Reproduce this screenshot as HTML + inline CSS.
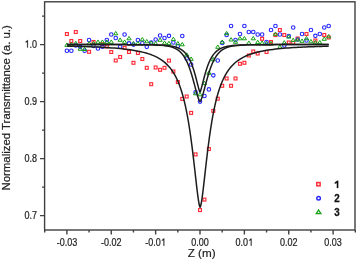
<!DOCTYPE html><html><head><meta charset="utf-8"><style>html,body{margin:0;padding:0;background:#fff;}svg{display:block;filter:blur(0.3px);}text{font-family:"Liberation Sans",sans-serif;}</style></head><body>
<svg width="357" height="260" viewBox="0 0 357 260">
<rect x="0" y="0" width="357" height="260" fill="#fff"/>
<rect x="65.45" y="32.55" width="2.90" height="2.90" fill="none" stroke="#ff2a36" stroke-width="1.15"/><rect x="69.89" y="39.55" width="2.90" height="2.90" fill="none" stroke="#ff2a36" stroke-width="1.15"/><rect x="74.32" y="30.55" width="2.90" height="2.90" fill="none" stroke="#ff2a36" stroke-width="1.15"/><rect x="78.76" y="39.55" width="2.90" height="2.90" fill="none" stroke="#ff2a36" stroke-width="1.15"/><rect x="87.64" y="50.35" width="2.90" height="2.90" fill="none" stroke="#ff2a36" stroke-width="1.15"/><rect x="92.07" y="40.55" width="2.90" height="2.90" fill="none" stroke="#ff2a36" stroke-width="1.15"/><rect x="100.95" y="42.85" width="2.90" height="2.90" fill="none" stroke="#ff2a36" stroke-width="1.15"/><rect x="105.38" y="45.05" width="2.90" height="2.90" fill="none" stroke="#ff2a36" stroke-width="1.15"/><rect x="109.82" y="50.55" width="2.90" height="2.90" fill="none" stroke="#ff2a36" stroke-width="1.15"/><rect x="114.26" y="59.05" width="2.90" height="2.90" fill="none" stroke="#ff2a36" stroke-width="1.15"/><rect x="118.69" y="55.55" width="2.90" height="2.90" fill="none" stroke="#ff2a36" stroke-width="1.15"/><rect x="123.13" y="46.35" width="2.90" height="2.90" fill="none" stroke="#ff2a36" stroke-width="1.15"/><rect x="127.57" y="50.55" width="2.90" height="2.90" fill="none" stroke="#ff2a36" stroke-width="1.15"/><rect x="132.01" y="61.35" width="2.90" height="2.90" fill="none" stroke="#ff2a36" stroke-width="1.15"/><rect x="136.44" y="51.55" width="2.90" height="2.90" fill="none" stroke="#ff2a36" stroke-width="1.15"/><rect x="140.88" y="57.55" width="2.90" height="2.90" fill="none" stroke="#ff2a36" stroke-width="1.15"/><rect x="145.32" y="66.35" width="2.90" height="2.90" fill="none" stroke="#ff2a36" stroke-width="1.15"/><rect x="149.75" y="82.75" width="2.90" height="2.90" fill="none" stroke="#ff2a36" stroke-width="1.15"/><rect x="154.19" y="66.05" width="2.90" height="2.90" fill="none" stroke="#ff2a36" stroke-width="1.15"/><rect x="158.63" y="68.35" width="2.90" height="2.90" fill="none" stroke="#ff2a36" stroke-width="1.15"/><rect x="163.06" y="66.35" width="2.90" height="2.90" fill="none" stroke="#ff2a36" stroke-width="1.15"/><rect x="167.50" y="59.15" width="2.90" height="2.90" fill="none" stroke="#ff2a36" stroke-width="1.15"/><rect x="171.94" y="70.05" width="2.90" height="2.90" fill="none" stroke="#ff2a36" stroke-width="1.15"/><rect x="176.38" y="80.55" width="2.90" height="2.90" fill="none" stroke="#ff2a36" stroke-width="1.15"/><rect x="180.81" y="97.45" width="2.90" height="2.90" fill="none" stroke="#ff2a36" stroke-width="1.15"/><rect x="185.25" y="95.05" width="2.90" height="2.90" fill="none" stroke="#ff2a36" stroke-width="1.15"/><rect x="189.69" y="111.45" width="2.90" height="2.90" fill="none" stroke="#ff2a36" stroke-width="1.15"/><rect x="194.12" y="152.95" width="2.90" height="2.90" fill="none" stroke="#ff2a36" stroke-width="1.15"/><rect x="198.56" y="208.65" width="2.90" height="2.90" fill="none" stroke="#ff2a36" stroke-width="1.15"/><rect x="203.00" y="198.15" width="2.90" height="2.90" fill="none" stroke="#ff2a36" stroke-width="1.15"/><rect x="207.43" y="147.55" width="2.90" height="2.90" fill="none" stroke="#ff2a36" stroke-width="1.15"/><rect x="211.87" y="109.45" width="2.90" height="2.90" fill="none" stroke="#ff2a36" stroke-width="1.15"/><rect x="216.31" y="97.25" width="2.90" height="2.90" fill="none" stroke="#ff2a36" stroke-width="1.15"/><rect x="220.75" y="84.35" width="2.90" height="2.90" fill="none" stroke="#ff2a36" stroke-width="1.15"/><rect x="225.18" y="77.05" width="2.90" height="2.90" fill="none" stroke="#ff2a36" stroke-width="1.15"/><rect x="229.62" y="84.35" width="2.90" height="2.90" fill="none" stroke="#ff2a36" stroke-width="1.15"/><rect x="234.06" y="77.05" width="2.90" height="2.90" fill="none" stroke="#ff2a36" stroke-width="1.15"/><rect x="238.49" y="62.35" width="2.90" height="2.90" fill="none" stroke="#ff2a36" stroke-width="1.15"/><rect x="242.93" y="61.35" width="2.90" height="2.90" fill="none" stroke="#ff2a36" stroke-width="1.15"/><rect x="247.37" y="54.05" width="2.90" height="2.90" fill="none" stroke="#ff2a36" stroke-width="1.15"/><rect x="251.80" y="50.05" width="2.90" height="2.90" fill="none" stroke="#ff2a36" stroke-width="1.15"/><rect x="256.24" y="52.05" width="2.90" height="2.90" fill="none" stroke="#ff2a36" stroke-width="1.15"/><rect x="260.68" y="37.35" width="2.90" height="2.90" fill="none" stroke="#ff2a36" stroke-width="1.15"/><rect x="265.12" y="50.55" width="2.90" height="2.90" fill="none" stroke="#ff2a36" stroke-width="1.15"/><rect x="269.55" y="40.55" width="2.90" height="2.90" fill="none" stroke="#ff2a36" stroke-width="1.15"/><rect x="273.99" y="33.55" width="2.90" height="2.90" fill="none" stroke="#ff2a36" stroke-width="1.15"/><rect x="278.43" y="28.55" width="2.90" height="2.90" fill="none" stroke="#ff2a36" stroke-width="1.15"/><rect x="282.86" y="33.55" width="2.90" height="2.90" fill="none" stroke="#ff2a36" stroke-width="1.15"/><rect x="287.30" y="41.05" width="2.90" height="2.90" fill="none" stroke="#ff2a36" stroke-width="1.15"/><rect x="291.74" y="41.35" width="2.90" height="2.90" fill="none" stroke="#ff2a36" stroke-width="1.15"/><rect x="296.17" y="37.05" width="2.90" height="2.90" fill="none" stroke="#ff2a36" stroke-width="1.15"/><rect x="305.05" y="32.55" width="2.90" height="2.90" fill="none" stroke="#ff2a36" stroke-width="1.15"/><rect x="313.92" y="39.05" width="2.90" height="2.90" fill="none" stroke="#ff2a36" stroke-width="1.15"/><rect x="322.80" y="33.55" width="2.90" height="2.90" fill="none" stroke="#ff2a36" stroke-width="1.15"/><rect x="327.23" y="36.05" width="2.90" height="2.90" fill="none" stroke="#ff2a36" stroke-width="1.15"/><circle cx="66.90" cy="50.70" r="1.75" fill="none" stroke="#2828ff" stroke-width="1.15"/><circle cx="71.34" cy="50.70" r="1.75" fill="none" stroke="#2828ff" stroke-width="1.15"/><circle cx="75.77" cy="45.50" r="1.75" fill="none" stroke="#2828ff" stroke-width="1.15"/><circle cx="80.21" cy="46.80" r="1.75" fill="none" stroke="#2828ff" stroke-width="1.15"/><circle cx="84.65" cy="50.70" r="1.75" fill="none" stroke="#2828ff" stroke-width="1.15"/><circle cx="89.09" cy="40.00" r="1.75" fill="none" stroke="#2828ff" stroke-width="1.15"/><circle cx="93.52" cy="45.80" r="1.75" fill="none" stroke="#2828ff" stroke-width="1.15"/><circle cx="97.96" cy="48.50" r="1.75" fill="none" stroke="#2828ff" stroke-width="1.15"/><circle cx="102.40" cy="46.70" r="1.75" fill="none" stroke="#2828ff" stroke-width="1.15"/><circle cx="106.83" cy="40.00" r="1.75" fill="none" stroke="#2828ff" stroke-width="1.15"/><circle cx="111.27" cy="34.50" r="1.75" fill="none" stroke="#2828ff" stroke-width="1.15"/><circle cx="115.71" cy="38.00" r="1.75" fill="none" stroke="#2828ff" stroke-width="1.15"/><circle cx="120.14" cy="46.70" r="1.75" fill="none" stroke="#2828ff" stroke-width="1.15"/><circle cx="124.58" cy="34.50" r="1.75" fill="none" stroke="#2828ff" stroke-width="1.15"/><circle cx="129.02" cy="43.30" r="1.75" fill="none" stroke="#2828ff" stroke-width="1.15"/><circle cx="133.46" cy="44.60" r="1.75" fill="none" stroke="#2828ff" stroke-width="1.15"/><circle cx="137.89" cy="40.00" r="1.75" fill="none" stroke="#2828ff" stroke-width="1.15"/><circle cx="142.33" cy="43.20" r="1.75" fill="none" stroke="#2828ff" stroke-width="1.15"/><circle cx="146.77" cy="46.80" r="1.75" fill="none" stroke="#2828ff" stroke-width="1.15"/><circle cx="151.20" cy="42.50" r="1.75" fill="none" stroke="#2828ff" stroke-width="1.15"/><circle cx="155.64" cy="39.50" r="1.75" fill="none" stroke="#2828ff" stroke-width="1.15"/><circle cx="160.08" cy="35.50" r="1.75" fill="none" stroke="#2828ff" stroke-width="1.15"/><circle cx="164.51" cy="38.00" r="1.75" fill="none" stroke="#2828ff" stroke-width="1.15"/><circle cx="168.95" cy="35.80" r="1.75" fill="none" stroke="#2828ff" stroke-width="1.15"/><circle cx="173.39" cy="42.50" r="1.75" fill="none" stroke="#2828ff" stroke-width="1.15"/><circle cx="177.83" cy="46.00" r="1.75" fill="none" stroke="#2828ff" stroke-width="1.15"/><circle cx="182.26" cy="36.00" r="1.75" fill="none" stroke="#2828ff" stroke-width="1.15"/><circle cx="186.70" cy="58.50" r="1.75" fill="none" stroke="#2828ff" stroke-width="1.15"/><circle cx="191.14" cy="64.50" r="1.75" fill="none" stroke="#2828ff" stroke-width="1.15"/><circle cx="195.57" cy="92.20" r="1.75" fill="none" stroke="#2828ff" stroke-width="1.15"/><circle cx="200.01" cy="101.60" r="1.75" fill="none" stroke="#2828ff" stroke-width="1.15"/><circle cx="204.45" cy="96.00" r="1.75" fill="none" stroke="#2828ff" stroke-width="1.15"/><circle cx="208.88" cy="89.40" r="1.75" fill="none" stroke="#2828ff" stroke-width="1.15"/><circle cx="213.32" cy="75.30" r="1.75" fill="none" stroke="#2828ff" stroke-width="1.15"/><circle cx="217.76" cy="60.50" r="1.75" fill="none" stroke="#2828ff" stroke-width="1.15"/><circle cx="222.20" cy="43.00" r="1.75" fill="none" stroke="#2828ff" stroke-width="1.15"/><circle cx="226.63" cy="35.00" r="1.75" fill="none" stroke="#2828ff" stroke-width="1.15"/><circle cx="231.07" cy="26.00" r="1.75" fill="none" stroke="#2828ff" stroke-width="1.15"/><circle cx="235.51" cy="40.00" r="1.75" fill="none" stroke="#2828ff" stroke-width="1.15"/><circle cx="239.94" cy="34.00" r="1.75" fill="none" stroke="#2828ff" stroke-width="1.15"/><circle cx="244.38" cy="26.00" r="1.75" fill="none" stroke="#2828ff" stroke-width="1.15"/><circle cx="248.82" cy="32.00" r="1.75" fill="none" stroke="#2828ff" stroke-width="1.15"/><circle cx="253.25" cy="32.00" r="1.75" fill="none" stroke="#2828ff" stroke-width="1.15"/><circle cx="257.69" cy="34.50" r="1.75" fill="none" stroke="#2828ff" stroke-width="1.15"/><circle cx="262.13" cy="34.50" r="1.75" fill="none" stroke="#2828ff" stroke-width="1.15"/><circle cx="266.57" cy="42.00" r="1.75" fill="none" stroke="#2828ff" stroke-width="1.15"/><circle cx="271.00" cy="30.00" r="1.75" fill="none" stroke="#2828ff" stroke-width="1.15"/><circle cx="275.44" cy="26.00" r="1.75" fill="none" stroke="#2828ff" stroke-width="1.15"/><circle cx="279.88" cy="34.50" r="1.75" fill="none" stroke="#2828ff" stroke-width="1.15"/><circle cx="284.31" cy="45.50" r="1.75" fill="none" stroke="#2828ff" stroke-width="1.15"/><circle cx="288.75" cy="36.00" r="1.75" fill="none" stroke="#2828ff" stroke-width="1.15"/><circle cx="293.19" cy="27.50" r="1.75" fill="none" stroke="#2828ff" stroke-width="1.15"/><circle cx="297.62" cy="39.50" r="1.75" fill="none" stroke="#2828ff" stroke-width="1.15"/><circle cx="302.06" cy="34.00" r="1.75" fill="none" stroke="#2828ff" stroke-width="1.15"/><circle cx="306.50" cy="40.50" r="1.75" fill="none" stroke="#2828ff" stroke-width="1.15"/><circle cx="310.94" cy="30.00" r="1.75" fill="none" stroke="#2828ff" stroke-width="1.15"/><circle cx="315.37" cy="35.80" r="1.75" fill="none" stroke="#2828ff" stroke-width="1.15"/><circle cx="319.81" cy="34.00" r="1.75" fill="none" stroke="#2828ff" stroke-width="1.15"/><circle cx="324.25" cy="27.50" r="1.75" fill="none" stroke="#2828ff" stroke-width="1.15"/><circle cx="328.68" cy="26.00" r="1.75" fill="none" stroke="#2828ff" stroke-width="1.15"/><path d="M66.90,42.95L69.00,46.30L64.80,46.30Z" fill="none" stroke="#14a014" stroke-width="1.0" stroke-linejoin="miter"/><path d="M71.34,42.45L73.44,45.80L69.24,45.80Z" fill="none" stroke="#14a014" stroke-width="1.0" stroke-linejoin="miter"/><path d="M75.77,41.25L77.87,44.60L73.67,44.60Z" fill="none" stroke="#14a014" stroke-width="1.0" stroke-linejoin="miter"/><path d="M80.21,46.95L82.31,50.30L78.11,50.30Z" fill="none" stroke="#14a014" stroke-width="1.0" stroke-linejoin="miter"/><path d="M84.65,47.15L86.75,50.50L82.55,50.50Z" fill="none" stroke="#14a014" stroke-width="1.0" stroke-linejoin="miter"/><path d="M89.09,41.45L91.19,44.80L86.99,44.80Z" fill="none" stroke="#14a014" stroke-width="1.0" stroke-linejoin="miter"/><path d="M93.52,41.45L95.62,44.80L91.42,44.80Z" fill="none" stroke="#14a014" stroke-width="1.0" stroke-linejoin="miter"/><path d="M97.96,39.95L100.06,43.30L95.86,43.30Z" fill="none" stroke="#14a014" stroke-width="1.0" stroke-linejoin="miter"/><path d="M102.40,39.95L104.50,43.30L100.30,43.30Z" fill="none" stroke="#14a014" stroke-width="1.0" stroke-linejoin="miter"/><path d="M106.83,39.95L108.93,43.30L104.73,43.30Z" fill="none" stroke="#14a014" stroke-width="1.0" stroke-linejoin="miter"/><path d="M111.27,39.95L113.37,43.30L109.17,43.30Z" fill="none" stroke="#14a014" stroke-width="1.0" stroke-linejoin="miter"/><path d="M115.71,31.45L117.81,34.80L113.61,34.80Z" fill="none" stroke="#14a014" stroke-width="1.0" stroke-linejoin="miter"/><path d="M120.14,37.95L122.24,41.30L118.04,41.30Z" fill="none" stroke="#14a014" stroke-width="1.0" stroke-linejoin="miter"/><path d="M124.58,39.95L126.68,43.30L122.48,43.30Z" fill="none" stroke="#14a014" stroke-width="1.0" stroke-linejoin="miter"/><path d="M129.02,36.45L131.12,39.80L126.92,39.80Z" fill="none" stroke="#14a014" stroke-width="1.0" stroke-linejoin="miter"/><path d="M133.46,41.45L135.56,44.80L131.36,44.80Z" fill="none" stroke="#14a014" stroke-width="1.0" stroke-linejoin="miter"/><path d="M137.89,41.45L139.99,44.80L135.79,44.80Z" fill="none" stroke="#14a014" stroke-width="1.0" stroke-linejoin="miter"/><path d="M142.33,37.45L144.43,40.80L140.23,40.80Z" fill="none" stroke="#14a014" stroke-width="1.0" stroke-linejoin="miter"/><path d="M146.77,39.45L148.87,42.80L144.67,42.80Z" fill="none" stroke="#14a014" stroke-width="1.0" stroke-linejoin="miter"/><path d="M151.20,40.95L153.30,44.30L149.10,44.30Z" fill="none" stroke="#14a014" stroke-width="1.0" stroke-linejoin="miter"/><path d="M155.64,41.45L157.74,44.80L153.54,44.80Z" fill="none" stroke="#14a014" stroke-width="1.0" stroke-linejoin="miter"/><path d="M160.08,37.95L162.18,41.30L157.98,41.30Z" fill="none" stroke="#14a014" stroke-width="1.0" stroke-linejoin="miter"/><path d="M164.51,40.95L166.61,44.30L162.41,44.30Z" fill="none" stroke="#14a014" stroke-width="1.0" stroke-linejoin="miter"/><path d="M168.95,41.25L171.05,44.60L166.85,44.60Z" fill="none" stroke="#14a014" stroke-width="1.0" stroke-linejoin="miter"/><path d="M173.39,37.15L175.49,40.50L171.29,40.50Z" fill="none" stroke="#14a014" stroke-width="1.0" stroke-linejoin="miter"/><path d="M177.83,41.45L179.93,44.80L175.73,44.80Z" fill="none" stroke="#14a014" stroke-width="1.0" stroke-linejoin="miter"/><path d="M182.26,42.45L184.36,45.80L180.16,45.80Z" fill="none" stroke="#14a014" stroke-width="1.0" stroke-linejoin="miter"/><path d="M186.70,52.75L188.80,56.10L184.60,56.10Z" fill="none" stroke="#14a014" stroke-width="1.0" stroke-linejoin="miter"/><path d="M191.14,56.95L193.24,60.30L189.04,60.30Z" fill="none" stroke="#14a014" stroke-width="1.0" stroke-linejoin="miter"/><path d="M195.57,91.45L197.67,94.80L193.47,94.80Z" fill="none" stroke="#14a014" stroke-width="1.0" stroke-linejoin="miter"/><path d="M200.01,92.45L202.11,95.80L197.91,95.80Z" fill="none" stroke="#14a014" stroke-width="1.0" stroke-linejoin="miter"/><path d="M204.45,81.25L206.55,84.60L202.35,84.60Z" fill="none" stroke="#14a014" stroke-width="1.0" stroke-linejoin="miter"/><path d="M208.88,70.95L210.98,74.30L206.78,74.30Z" fill="none" stroke="#14a014" stroke-width="1.0" stroke-linejoin="miter"/><path d="M213.32,57.45L215.42,60.80L211.22,60.80Z" fill="none" stroke="#14a014" stroke-width="1.0" stroke-linejoin="miter"/><path d="M217.76,44.95L219.86,48.30L215.66,48.30Z" fill="none" stroke="#14a014" stroke-width="1.0" stroke-linejoin="miter"/><path d="M222.20,39.95L224.30,43.30L220.10,43.30Z" fill="none" stroke="#14a014" stroke-width="1.0" stroke-linejoin="miter"/><path d="M226.63,31.35L228.73,34.70L224.53,34.70Z" fill="none" stroke="#14a014" stroke-width="1.0" stroke-linejoin="miter"/><path d="M231.07,37.65L233.17,41.00L228.97,41.00Z" fill="none" stroke="#14a014" stroke-width="1.0" stroke-linejoin="miter"/><path d="M235.51,39.95L237.61,43.30L233.41,43.30Z" fill="none" stroke="#14a014" stroke-width="1.0" stroke-linejoin="miter"/><path d="M239.94,36.45L242.04,39.80L237.84,39.80Z" fill="none" stroke="#14a014" stroke-width="1.0" stroke-linejoin="miter"/><path d="M244.38,36.45L246.48,39.80L242.28,39.80Z" fill="none" stroke="#14a014" stroke-width="1.0" stroke-linejoin="miter"/><path d="M248.82,40.95L250.92,44.30L246.72,44.30Z" fill="none" stroke="#14a014" stroke-width="1.0" stroke-linejoin="miter"/><path d="M253.25,36.45L255.35,39.80L251.15,39.80Z" fill="none" stroke="#14a014" stroke-width="1.0" stroke-linejoin="miter"/><path d="M257.69,40.25L259.79,43.60L255.59,43.60Z" fill="none" stroke="#14a014" stroke-width="1.0" stroke-linejoin="miter"/><path d="M262.13,40.95L264.23,44.30L260.03,44.30Z" fill="none" stroke="#14a014" stroke-width="1.0" stroke-linejoin="miter"/><path d="M266.57,41.45L268.67,44.80L264.47,44.80Z" fill="none" stroke="#14a014" stroke-width="1.0" stroke-linejoin="miter"/><path d="M271.00,41.45L273.10,44.80L268.90,44.80Z" fill="none" stroke="#14a014" stroke-width="1.0" stroke-linejoin="miter"/><path d="M275.44,31.95L277.54,35.30L273.34,35.30Z" fill="none" stroke="#14a014" stroke-width="1.0" stroke-linejoin="miter"/><path d="M279.88,44.95L281.98,48.30L277.78,48.30Z" fill="none" stroke="#14a014" stroke-width="1.0" stroke-linejoin="miter"/><path d="M284.31,40.65L286.41,44.00L282.21,44.00Z" fill="none" stroke="#14a014" stroke-width="1.0" stroke-linejoin="miter"/><path d="M288.75,34.75L290.85,38.10L286.65,38.10Z" fill="none" stroke="#14a014" stroke-width="1.0" stroke-linejoin="miter"/><path d="M293.19,38.15L295.29,41.50L291.09,41.50Z" fill="none" stroke="#14a014" stroke-width="1.0" stroke-linejoin="miter"/><path d="M297.62,37.65L299.72,41.00L295.52,41.00Z" fill="none" stroke="#14a014" stroke-width="1.0" stroke-linejoin="miter"/><path d="M302.06,38.95L304.16,42.30L299.96,42.30Z" fill="none" stroke="#14a014" stroke-width="1.0" stroke-linejoin="miter"/><path d="M306.50,36.45L308.60,39.80L304.40,39.80Z" fill="none" stroke="#14a014" stroke-width="1.0" stroke-linejoin="miter"/><path d="M310.94,39.45L313.04,42.80L308.84,42.80Z" fill="none" stroke="#14a014" stroke-width="1.0" stroke-linejoin="miter"/><path d="M315.37,40.45L317.47,43.80L313.27,43.80Z" fill="none" stroke="#14a014" stroke-width="1.0" stroke-linejoin="miter"/><path d="M319.81,40.45L321.91,43.80L317.71,43.80Z" fill="none" stroke="#14a014" stroke-width="1.0" stroke-linejoin="miter"/><path d="M324.25,36.95L326.35,40.30L322.15,40.30Z" fill="none" stroke="#14a014" stroke-width="1.0" stroke-linejoin="miter"/><path d="M328.68,34.45L330.78,37.80L326.58,37.80Z" fill="none" stroke="#14a014" stroke-width="1.0" stroke-linejoin="miter"/>
<path d="M66.90,46.07 L69.54,46.13 L72.19,46.19 L74.83,46.26 L77.47,46.33 L80.12,46.41 L82.76,46.49 L85.41,46.58 L88.05,46.67 L90.69,46.77 L93.34,46.88 L95.98,47.00 L98.62,47.12 L101.27,47.26 L103.91,47.40 L106.55,47.56 L109.20,47.73 L111.84,47.92 L114.48,48.12 L117.13,48.34 L119.77,48.58 L122.42,48.85 L125.06,49.14 L127.70,49.46 L130.35,49.82 L132.99,50.22 L135.63,50.67 L138.28,51.16 L140.92,51.72 L143.56,52.36 L146.21,53.07 L148.85,53.89 L151.49,54.83 L154.14,55.92 L156.78,57.17 L159.43,58.64 L162.07,60.37 L164.71,62.42 L167.36,64.88 L170.00,67.84 L170.20,68.08 L170.40,68.34 L170.60,68.59 L170.80,68.85 L171.00,69.12 L171.20,69.38 L171.40,69.65 L171.60,69.93 L171.80,70.21 L172.00,70.49 L172.20,70.78 L172.40,71.08 L172.60,71.38 L172.80,71.68 L173.00,71.99 L173.20,72.30 L173.40,72.62 L173.60,72.94 L173.80,73.27 L174.00,73.60 L174.20,73.94 L174.40,74.28 L174.60,74.63 L174.80,74.99 L175.00,75.35 L175.20,75.71 L175.40,76.09 L175.60,76.47 L175.80,76.85 L176.00,77.24 L176.20,77.64 L176.40,78.05 L176.60,78.46 L176.80,78.88 L177.00,79.30 L177.20,79.74 L177.40,80.18 L177.60,80.63 L177.80,81.08 L178.00,81.55 L178.20,82.02 L178.40,82.50 L178.60,82.99 L178.80,83.48 L179.00,83.99 L179.20,84.50 L179.40,85.03 L179.60,85.56 L179.80,86.10 L180.00,86.65 L180.20,87.21 L180.40,87.79 L180.60,88.37 L180.80,88.96 L181.00,89.56 L181.20,90.18 L181.40,90.80 L181.60,91.44 L181.80,92.09 L182.00,92.75 L182.20,93.42 L182.40,94.10 L182.60,94.80 L182.80,95.51 L183.00,96.23 L183.20,96.96 L183.40,97.71 L183.60,98.48 L183.80,99.25 L184.00,100.04 L184.20,100.85 L184.40,101.67 L184.60,102.50 L184.80,103.35 L185.00,104.22 L185.20,105.10 L185.40,106.00 L185.60,106.92 L185.80,107.85 L186.00,108.80 L186.20,109.77 L186.40,110.75 L186.60,111.75 L186.80,112.77 L187.00,113.81 L187.20,114.87 L187.40,115.94 L187.60,117.04 L187.80,118.16 L188.00,119.29 L188.20,120.45 L188.40,121.62 L188.60,122.82 L188.80,124.03 L189.00,125.27 L189.20,126.53 L189.40,127.81 L189.60,129.11 L189.80,130.44 L190.00,131.78 L190.20,133.15 L190.40,134.53 L190.60,135.94 L190.80,137.37 L191.00,138.83 L191.20,140.30 L191.40,141.80 L191.60,143.31 L191.80,144.85 L192.00,146.41 L192.20,147.98 L192.40,149.58 L192.60,151.20 L192.80,152.83 L193.00,154.49 L193.20,156.16 L193.40,157.84 L193.60,159.54 L193.80,161.26 L194.00,162.99 L194.20,164.73 L194.40,166.48 L194.60,168.24 L194.80,170.01 L195.00,171.78 L195.20,173.56 L195.40,175.33 L195.60,177.11 L195.80,178.88 L196.00,180.64 L196.20,182.39 L196.40,184.13 L196.60,185.86 L196.80,187.56 L197.00,189.24 L197.20,190.89 L197.40,192.50 L197.60,194.08 L197.80,195.61 L198.00,197.10 L198.20,198.52 L198.40,199.88 L198.60,201.17 L198.80,202.38 L199.00,203.50 L199.20,204.52 L199.40,205.43 L199.60,206.20 L199.80,206.81 L200.00,207.21 L200.20,207.21 L200.40,206.81 L200.60,206.20 L200.80,205.43 L201.00,204.52 L201.20,203.50 L201.40,202.38 L201.60,201.17 L201.80,199.88 L202.00,198.52 L202.20,197.10 L202.40,195.61 L202.60,194.08 L202.80,192.50 L203.00,190.89 L203.20,189.24 L203.40,187.56 L203.60,185.86 L203.80,184.13 L204.00,182.39 L204.20,180.64 L204.40,178.88 L204.60,177.11 L204.80,175.33 L205.00,173.56 L205.20,171.78 L205.40,170.01 L205.60,168.24 L205.80,166.48 L206.00,164.73 L206.20,162.99 L206.40,161.26 L206.60,159.54 L206.80,157.84 L207.00,156.16 L207.20,154.49 L207.40,152.83 L207.60,151.20 L207.80,149.58 L208.00,147.98 L208.20,146.41 L208.40,144.85 L208.60,143.31 L208.80,141.80 L209.00,140.30 L209.20,138.83 L209.40,137.37 L209.60,135.94 L209.80,134.53 L210.00,133.15 L210.20,131.78 L210.40,130.44 L210.60,129.11 L210.80,127.81 L211.00,126.53 L211.20,125.27 L211.40,124.03 L211.60,122.82 L211.80,121.62 L212.00,120.45 L212.20,119.29 L212.40,118.16 L212.60,117.04 L212.80,115.94 L213.00,114.87 L213.20,113.81 L213.40,112.77 L213.60,111.75 L213.80,110.75 L214.00,109.77 L214.20,108.80 L214.40,107.85 L214.60,106.92 L214.80,106.00 L215.00,105.10 L215.20,104.22 L215.40,103.35 L215.60,102.50 L215.80,101.67 L216.00,100.85 L216.20,100.04 L216.40,99.25 L216.60,98.48 L216.80,97.71 L217.00,96.96 L217.20,96.23 L217.40,95.51 L217.60,94.80 L217.80,94.10 L218.00,93.42 L218.20,92.75 L218.40,92.09 L218.60,91.44 L218.80,90.80 L219.00,90.18 L219.20,89.56 L219.40,88.96 L219.60,88.37 L219.80,87.79 L220.00,87.21 L220.20,86.65 L220.40,86.10 L220.60,85.56 L220.80,85.03 L221.00,84.50 L221.20,83.99 L221.40,83.48 L221.60,82.99 L221.80,82.50 L222.00,82.02 L222.20,81.55 L222.40,81.08 L222.60,80.63 L222.80,80.18 L223.00,79.74 L223.20,79.30 L223.40,78.88 L223.60,78.46 L223.80,78.05 L224.00,77.64 L224.20,77.24 L224.40,76.85 L224.60,76.47 L224.80,76.09 L225.00,75.71 L225.20,75.35 L225.40,74.99 L225.60,74.63 L225.80,74.28 L226.00,73.94 L226.20,73.60 L226.40,73.27 L226.60,72.94 L226.80,72.62 L227.00,72.30 L227.20,71.99 L227.40,71.68 L227.60,71.38 L227.80,71.08 L228.00,70.78 L228.20,70.49 L228.40,70.21 L228.60,69.93 L228.80,69.65 L229.00,69.38 L229.20,69.12 L229.40,68.85 L229.60,68.59 L229.80,68.34 L230.00,68.08 L232.53,65.20 L235.06,62.79 L237.59,60.76 L240.12,59.04 L242.65,57.57 L245.18,56.31 L247.72,55.22 L250.25,54.27 L252.78,53.44 L255.31,52.71 L257.84,52.06 L260.37,51.48 L262.90,50.97 L265.43,50.51 L267.96,50.10 L270.49,49.73 L273.02,49.40 L275.55,49.09 L278.08,48.82 L280.62,48.56 L283.15,48.33 L285.68,48.12 L288.21,47.93 L290.74,47.75 L293.27,47.58 L295.80,47.43 L298.33,47.29 L300.86,47.16 L303.39,47.04 L305.92,46.92 L308.45,46.82 L310.98,46.72 L313.52,46.63 L316.05,46.54 L318.58,46.46 L321.11,46.38 L323.64,46.31 L326.17,46.24 L328.70,46.18" fill="none" stroke="#1c1c1c" stroke-width="1.5" stroke-linejoin="round"/>
<path d="M66.90,44.60 L69.54,44.60 L72.19,44.60 L74.83,44.60 L77.47,44.60 L80.12,44.60 L82.76,44.60 L85.41,44.60 L88.05,44.60 L90.69,44.60 L93.34,44.60 L95.98,44.60 L98.62,44.60 L101.27,44.60 L103.91,44.60 L106.55,44.61 L109.20,44.61 L111.84,44.61 L114.48,44.61 L117.13,44.61 L119.77,44.61 L122.42,44.62 L125.06,44.62 L127.70,44.63 L130.35,44.63 L132.99,44.64 L135.63,44.65 L138.28,44.67 L140.92,44.68 L143.56,44.71 L146.21,44.74 L148.85,44.78 L151.49,44.84 L154.14,44.92 L156.78,45.02 L159.43,45.16 L162.07,45.36 L164.71,45.64 L167.36,46.03 L170.00,46.58 L170.20,46.63 L170.40,46.68 L170.60,46.73 L170.80,46.78 L171.00,46.84 L171.20,46.89 L171.40,46.95 L171.60,47.01 L171.80,47.07 L172.00,47.14 L172.20,47.20 L172.40,47.27 L172.60,47.34 L172.80,47.41 L173.00,47.48 L173.20,47.55 L173.40,47.63 L173.60,47.71 L173.80,47.79 L174.00,47.87 L174.20,47.95 L174.40,48.04 L174.60,48.13 L174.80,48.22 L175.00,48.31 L175.20,48.41 L175.40,48.51 L175.60,48.61 L175.80,48.72 L176.00,48.82 L176.20,48.93 L176.40,49.05 L176.60,49.16 L176.80,49.28 L177.00,49.40 L177.20,49.53 L177.40,49.66 L177.60,49.79 L177.80,49.93 L178.00,50.07 L178.20,50.21 L178.40,50.36 L178.60,50.51 L178.80,50.66 L179.00,50.82 L179.20,50.99 L179.40,51.16 L179.60,51.33 L179.80,51.51 L180.00,51.69 L180.20,51.87 L180.40,52.06 L180.60,52.26 L180.80,52.46 L181.00,52.67 L181.20,52.88 L181.40,53.10 L181.60,53.32 L181.80,53.55 L182.00,53.79 L182.20,54.03 L182.40,54.27 L182.60,54.53 L182.80,54.79 L183.00,55.05 L183.20,55.33 L183.40,55.61 L183.60,55.89 L183.80,56.19 L184.00,56.49 L184.20,56.80 L184.40,57.11 L184.60,57.44 L184.80,57.77 L185.00,58.11 L185.20,58.45 L185.40,58.81 L185.60,59.17 L185.80,59.55 L186.00,59.93 L186.20,60.32 L186.40,60.72 L186.60,61.12 L186.80,61.54 L187.00,61.97 L187.20,62.40 L187.40,62.85 L187.60,63.30 L187.80,63.77 L188.00,64.24 L188.20,64.73 L188.40,65.22 L188.60,65.72 L188.80,66.24 L189.00,66.76 L189.20,67.29 L189.40,67.84 L189.60,68.39 L189.80,68.96 L190.00,69.53 L190.20,70.12 L190.40,70.71 L190.60,71.31 L190.80,71.93 L191.00,72.55 L191.20,73.19 L191.40,73.83 L191.60,74.48 L191.80,75.14 L192.00,75.81 L192.20,76.49 L192.40,77.18 L192.60,77.88 L192.80,78.58 L193.00,79.29 L193.20,80.01 L193.40,80.73 L193.60,81.46 L193.80,82.19 L194.00,82.93 L194.20,83.68 L194.40,84.42 L194.60,85.18 L194.80,85.93 L195.00,86.68 L195.20,87.43 L195.40,88.19 L195.60,88.94 L195.80,89.69 L196.00,90.43 L196.20,91.17 L196.40,91.90 L196.60,92.63 L196.80,93.34 L197.00,94.05 L197.20,94.74 L197.40,95.41 L197.60,96.07 L197.80,96.72 L198.00,97.34 L198.20,97.93 L198.40,98.50 L198.60,99.04 L198.80,99.55 L199.00,100.01 L199.20,100.44 L199.40,100.81 L199.60,101.13 L199.80,101.37 L200.00,101.50 L200.20,101.37 L200.40,101.13 L200.60,100.81 L200.80,100.44 L201.00,100.01 L201.20,99.55 L201.40,99.04 L201.60,98.50 L201.80,97.93 L202.00,97.34 L202.20,96.72 L202.40,96.07 L202.60,95.41 L202.80,94.74 L203.00,94.05 L203.20,93.34 L203.40,92.63 L203.60,91.90 L203.80,91.17 L204.00,90.43 L204.20,89.69 L204.40,88.94 L204.60,88.19 L204.80,87.43 L205.00,86.68 L205.20,85.93 L205.40,85.18 L205.60,84.42 L205.80,83.68 L206.00,82.93 L206.20,82.19 L206.40,81.46 L206.60,80.73 L206.80,80.01 L207.00,79.29 L207.20,78.58 L207.40,77.88 L207.60,77.18 L207.80,76.49 L208.00,75.81 L208.20,75.14 L208.40,74.48 L208.60,73.83 L208.80,73.19 L209.00,72.55 L209.20,71.93 L209.40,71.31 L209.60,70.71 L209.80,70.12 L210.00,69.53 L210.20,68.96 L210.40,68.39 L210.60,67.84 L210.80,67.29 L211.00,66.76 L211.20,66.24 L211.40,65.72 L211.60,65.22 L211.80,64.73 L212.00,64.24 L212.20,63.77 L212.40,63.30 L212.60,62.85 L212.80,62.40 L213.00,61.97 L213.20,61.54 L213.40,61.12 L213.60,60.72 L213.80,60.32 L214.00,59.93 L214.20,59.55 L214.40,59.17 L214.60,58.81 L214.80,58.45 L215.00,58.11 L215.20,57.77 L215.40,57.44 L215.60,57.11 L215.80,56.80 L216.00,56.49 L216.20,56.19 L216.40,55.89 L216.60,55.61 L216.80,55.33 L217.00,55.05 L217.20,54.79 L217.40,54.53 L217.60,54.27 L217.80,54.03 L218.00,53.79 L218.20,53.55 L218.40,53.32 L218.60,53.10 L218.80,52.88 L219.00,52.67 L219.20,52.46 L219.40,52.26 L219.60,52.06 L219.80,51.87 L220.00,51.69 L220.20,51.51 L220.40,51.33 L220.60,51.16 L220.80,50.99 L221.00,50.82 L221.20,50.66 L221.40,50.51 L221.60,50.36 L221.80,50.21 L222.00,50.07 L222.20,49.93 L222.40,49.79 L222.60,49.66 L222.80,49.53 L223.00,49.40 L223.20,49.28 L223.40,49.16 L223.60,49.05 L223.80,48.93 L224.00,48.82 L224.20,48.72 L224.40,48.61 L224.60,48.51 L224.80,48.41 L225.00,48.31 L225.20,48.22 L225.40,48.13 L225.60,48.04 L225.80,47.95 L226.00,47.87 L226.20,47.79 L226.40,47.71 L226.60,47.63 L226.80,47.55 L227.00,47.48 L227.20,47.41 L227.40,47.34 L227.60,47.27 L227.80,47.20 L228.00,47.14 L228.20,47.07 L228.40,47.01 L228.60,46.95 L228.80,46.89 L229.00,46.84 L229.20,46.78 L229.40,46.73 L229.60,46.68 L229.80,46.63 L230.00,46.58 L232.53,46.05 L235.06,45.67 L237.59,45.39 L240.12,45.19 L242.65,45.05 L245.18,44.94 L247.72,44.86 L250.25,44.80 L252.78,44.75 L255.31,44.72 L257.84,44.69 L260.37,44.67 L262.90,44.66 L265.43,44.65 L267.96,44.64 L270.49,44.63 L273.02,44.62 L275.55,44.62 L278.08,44.62 L280.62,44.61 L283.15,44.61 L285.68,44.61 L288.21,44.61 L290.74,44.61 L293.27,44.61 L295.80,44.60 L298.33,44.60 L300.86,44.60 L303.39,44.60 L305.92,44.60 L308.45,44.60 L310.98,44.60 L313.52,44.60 L316.05,44.60 L318.58,44.60 L321.11,44.60 L323.64,44.60 L326.17,44.60 L328.70,44.60" fill="none" stroke="#1c1c1c" stroke-width="1.5" stroke-linejoin="round"/>
<path d="M66.90,44.60 L69.54,44.60 L72.19,44.60 L74.83,44.60 L77.47,44.60 L80.12,44.60 L82.76,44.60 L85.41,44.60 L88.05,44.60 L90.69,44.60 L93.34,44.60 L95.98,44.60 L98.62,44.60 L101.27,44.61 L103.91,44.61 L106.55,44.61 L109.20,44.61 L111.84,44.61 L114.48,44.61 L117.13,44.61 L119.77,44.62 L122.42,44.62 L125.06,44.62 L127.70,44.63 L130.35,44.63 L132.99,44.64 L135.63,44.65 L138.28,44.66 L140.92,44.68 L143.56,44.70 L146.21,44.72 L148.85,44.75 L151.49,44.79 L154.14,44.84 L156.78,44.91 L159.43,45.01 L162.07,45.13 L164.71,45.31 L167.36,45.54 L170.00,45.87 L170.20,45.90 L170.40,45.93 L170.60,45.96 L170.80,45.99 L171.00,46.02 L171.20,46.05 L171.40,46.09 L171.60,46.12 L171.80,46.16 L172.00,46.20 L172.20,46.23 L172.40,46.27 L172.60,46.31 L172.80,46.35 L173.00,46.39 L173.20,46.44 L173.40,46.48 L173.60,46.53 L173.80,46.57 L174.00,46.62 L174.20,46.67 L174.40,46.72 L174.60,46.77 L174.80,46.82 L175.00,46.88 L175.20,46.94 L175.40,46.99 L175.60,47.05 L175.80,47.11 L176.00,47.17 L176.20,47.24 L176.40,47.30 L176.60,47.37 L176.80,47.44 L177.00,47.51 L177.20,47.58 L177.40,47.66 L177.60,47.74 L177.80,47.81 L178.00,47.90 L178.20,47.98 L178.40,48.06 L178.60,48.15 L178.80,48.24 L179.00,48.34 L179.20,48.43 L179.40,48.53 L179.60,48.63 L179.80,48.73 L180.00,48.84 L180.20,48.95 L180.40,49.06 L180.60,49.18 L180.80,49.30 L181.00,49.42 L181.20,49.55 L181.40,49.67 L181.60,49.81 L181.80,49.94 L182.00,50.08 L182.20,50.23 L182.40,50.38 L182.60,50.53 L182.80,50.68 L183.00,50.84 L183.20,51.01 L183.40,51.18 L183.60,51.35 L183.80,51.53 L184.00,51.72 L184.20,51.91 L184.40,52.10 L184.60,52.30 L184.80,52.51 L185.00,52.72 L185.20,52.93 L185.40,53.16 L185.60,53.39 L185.80,53.62 L186.00,53.86 L186.20,54.11 L186.40,54.37 L186.60,54.63 L186.80,54.90 L187.00,55.18 L187.20,55.46 L187.40,55.75 L187.60,56.05 L187.80,56.36 L188.00,56.68 L188.20,57.00 L188.40,57.34 L188.60,57.68 L188.80,58.03 L189.00,58.39 L189.20,58.76 L189.40,59.14 L189.60,59.53 L189.80,59.93 L190.00,60.34 L190.20,60.76 L190.40,61.19 L190.60,61.63 L190.80,62.09 L191.00,62.55 L191.20,63.03 L191.40,63.51 L191.60,64.01 L191.80,64.52 L192.00,65.04 L192.20,65.58 L192.40,66.12 L192.60,66.68 L192.80,67.25 L193.00,67.83 L193.20,68.43 L193.40,69.04 L193.60,69.66 L193.80,70.29 L194.00,70.93 L194.20,71.59 L194.40,72.26 L194.60,72.94 L194.80,73.63 L195.00,74.34 L195.20,75.05 L195.40,75.78 L195.60,76.51 L195.80,77.26 L196.00,78.01 L196.20,78.77 L196.40,79.54 L196.60,80.32 L196.80,81.10 L197.00,81.88 L197.20,82.67 L197.40,83.46 L197.60,84.25 L197.80,85.04 L198.00,85.82 L198.20,86.59 L198.40,87.35 L198.60,88.10 L198.80,88.82 L199.00,89.52 L199.20,90.19 L199.40,90.82 L199.60,91.39 L199.80,91.87 L200.00,92.20 L200.20,91.87 L200.40,91.39 L200.60,90.82 L200.80,90.19 L201.00,89.52 L201.20,88.82 L201.40,88.10 L201.60,87.35 L201.80,86.59 L202.00,85.82 L202.20,85.04 L202.40,84.25 L202.60,83.46 L202.80,82.67 L203.00,81.88 L203.20,81.10 L203.40,80.32 L203.60,79.54 L203.80,78.77 L204.00,78.01 L204.20,77.26 L204.40,76.51 L204.60,75.78 L204.80,75.05 L205.00,74.34 L205.20,73.63 L205.40,72.94 L205.60,72.26 L205.80,71.59 L206.00,70.93 L206.20,70.29 L206.40,69.66 L206.60,69.04 L206.80,68.43 L207.00,67.83 L207.20,67.25 L207.40,66.68 L207.60,66.12 L207.80,65.58 L208.00,65.04 L208.20,64.52 L208.40,64.01 L208.60,63.51 L208.80,63.03 L209.00,62.55 L209.20,62.09 L209.40,61.63 L209.60,61.19 L209.80,60.76 L210.00,60.34 L210.20,59.93 L210.40,59.53 L210.60,59.14 L210.80,58.76 L211.00,58.39 L211.20,58.03 L211.40,57.68 L211.60,57.34 L211.80,57.00 L212.00,56.68 L212.20,56.36 L212.40,56.05 L212.60,55.75 L212.80,55.46 L213.00,55.18 L213.20,54.90 L213.40,54.63 L213.60,54.37 L213.80,54.11 L214.00,53.86 L214.20,53.62 L214.40,53.39 L214.60,53.16 L214.80,52.93 L215.00,52.72 L215.20,52.51 L215.40,52.30 L215.60,52.10 L215.80,51.91 L216.00,51.72 L216.20,51.53 L216.40,51.35 L216.60,51.18 L216.80,51.01 L217.00,50.84 L217.20,50.68 L217.40,50.53 L217.60,50.38 L217.80,50.23 L218.00,50.08 L218.20,49.94 L218.40,49.81 L218.60,49.67 L218.80,49.55 L219.00,49.42 L219.20,49.30 L219.40,49.18 L219.60,49.06 L219.80,48.95 L220.00,48.84 L220.20,48.73 L220.40,48.63 L220.60,48.53 L220.80,48.43 L221.00,48.34 L221.20,48.24 L221.40,48.15 L221.60,48.06 L221.80,47.98 L222.00,47.90 L222.20,47.81 L222.40,47.74 L222.60,47.66 L222.80,47.58 L223.00,47.51 L223.20,47.44 L223.40,47.37 L223.60,47.30 L223.80,47.24 L224.00,47.17 L224.20,47.11 L224.40,47.05 L224.60,46.99 L224.80,46.94 L225.00,46.88 L225.20,46.82 L225.40,46.77 L225.60,46.72 L225.80,46.67 L226.00,46.62 L226.20,46.57 L226.40,46.53 L226.60,46.48 L226.80,46.44 L227.00,46.39 L227.20,46.35 L227.40,46.31 L227.60,46.27 L227.80,46.23 L228.00,46.20 L228.20,46.16 L228.40,46.12 L228.60,46.09 L228.80,46.05 L229.00,46.02 L229.20,45.99 L229.40,45.96 L229.60,45.93 L229.80,45.90 L230.00,45.87 L232.53,45.55 L235.06,45.32 L237.59,45.15 L240.12,45.03 L242.65,44.93 L245.18,44.86 L247.72,44.80 L250.25,44.76 L252.78,44.73 L255.31,44.70 L257.84,44.68 L260.37,44.67 L262.90,44.66 L265.43,44.65 L267.96,44.64 L270.49,44.63 L273.02,44.63 L275.55,44.62 L278.08,44.62 L280.62,44.62 L283.15,44.61 L285.68,44.61 L288.21,44.61 L290.74,44.61 L293.27,44.61 L295.80,44.61 L298.33,44.61 L300.86,44.60 L303.39,44.60 L305.92,44.60 L308.45,44.60 L310.98,44.60 L313.52,44.60 L316.05,44.60 L318.58,44.60 L321.11,44.60 L323.64,44.60 L326.17,44.60 L328.70,44.60" fill="none" stroke="#1c1c1c" stroke-width="1.5" stroke-linejoin="round"/>
<rect x="44.6" y="1.8" width="310.4" height="228.2" fill="none" stroke="#404040" stroke-width="1.4"/>
<path d="M44.70,230.0v2.6 M66.89,230.0v4.6 M89.07,230.0v2.6 M111.26,230.0v4.6 M133.44,230.0v2.6 M155.63,230.0v4.6 M177.81,230.0v2.6 M200.00,230.0v4.6 M222.19,230.0v2.6 M244.37,230.0v4.6 M266.56,230.0v2.6 M288.74,230.0v4.6 M310.93,230.0v2.6 M333.11,230.0v4.6 M355.30,230.0v2.6 M44.6,215.60h-4.6 M44.6,187.10h-2.6 M44.6,158.60h-4.6 M44.6,130.10h-2.6 M44.6,101.60h-4.6 M44.6,73.10h-2.6 M44.6,44.60h-4.6 M44.6,16.10h-2.6" stroke="#404040" stroke-width="1.4" fill="none"/>
<text transform="translate(66.89,245.8) scale(0.97,1.1)" font-size="9.3" text-anchor="middle" fill="#222" stroke="#222" stroke-width="0.2">-0.03</text>
<text transform="translate(111.26,245.8) scale(0.97,1.1)" font-size="9.3" text-anchor="middle" fill="#222" stroke="#222" stroke-width="0.2">-0.02</text>
<text transform="translate(145.35,245.8) scale(0.97,1.1)" font-size="9.3" fill="#222" stroke="#222" stroke-width="0.2">-0.0</text>
<path transform="translate(160.89,245.8) scale(0.004405,-0.004995)" d="M772,0L596,0L596,1114L235,1013L235,1183L640,1466L772,1466Z" fill="#222" stroke="#222" stroke-width="45"/>
<text transform="translate(200.00,245.8) scale(0.97,1.1)" font-size="9.3" text-anchor="middle" fill="#222" stroke="#222" stroke-width="0.2">0.00</text>
<text transform="translate(235.59,245.8) scale(0.97,1.1)" font-size="9.3" fill="#222" stroke="#222" stroke-width="0.2">0.0</text>
<path transform="translate(248.13,245.8) scale(0.004405,-0.004995)" d="M772,0L596,0L596,1114L235,1013L235,1183L640,1466L772,1466Z" fill="#222" stroke="#222" stroke-width="45"/>
<text transform="translate(288.74,245.8) scale(0.97,1.1)" font-size="9.3" text-anchor="middle" fill="#222" stroke="#222" stroke-width="0.2">0.02</text>
<text transform="translate(333.11,245.8) scale(0.97,1.1)" font-size="9.3" text-anchor="middle" fill="#222" stroke="#222" stroke-width="0.2">0.03</text>
<text transform="translate(37.1,104.60) scale(0.97,1.1)" font-size="9.3" text-anchor="end" fill="#222" stroke="#222" stroke-width="0.2">0.9</text>
<text transform="translate(37.1,161.60) scale(0.97,1.1)" font-size="9.3" text-anchor="end" fill="#222" stroke="#222" stroke-width="0.2">0.8</text>
<text transform="translate(37.1,218.60) scale(0.97,1.1)" font-size="9.3" text-anchor="end" fill="#222" stroke="#222" stroke-width="0.2">0.7</text>
<path transform="translate(24.56,47.60) scale(0.004405,-0.004995)" d="M772,0L596,0L596,1114L235,1013L235,1183L640,1466L772,1466Z" fill="#222" stroke="#222" stroke-width="45"/>
<text transform="translate(29.58,47.60) scale(0.97,1.1)" font-size="9.3" fill="#222" stroke="#222" stroke-width="0.2">.0</text>
<text x="201.6" y="257.2" font-size="11.7" text-anchor="middle" fill="#222" stroke="#222" stroke-width="0.2">Z (m)</text>
<text transform="translate(10.3,107.9) rotate(-90) scale(1.108,1)" font-size="10.3" text-anchor="middle" fill="#222" stroke="#222" stroke-width="0.2">Normalized Transmittance (a. u.)</text>
<rect x="316.80" y="182.55" width="3.30" height="3.30" fill="none" stroke="#ff2a36" stroke-width="1.5"/>
<circle cx="318.60" cy="198.20" r="1.80" fill="none" stroke="#2828ff" stroke-width="1.45"/>
<path d="M318.60,209.99L320.91,213.68L316.29,213.68Z" fill="none" stroke="#14a014" stroke-width="1.3" stroke-linejoin="miter"/>
<path transform="translate(334.2,188.0) scale(0.004785,-0.004929)" d="M841,0L560,0L560,1036L131,879L131,1128L614,1466L841,1466Z" fill="#111" stroke="#111" stroke-width="50"/>
<text transform="translate(334.2,201.9) scale(1,1.03)" font-size="9.8" font-weight="bold" fill="#111" stroke="#111" stroke-width="0.25">2</text>
<text transform="translate(334.2,215.5) scale(1,1.03)" font-size="9.8" font-weight="bold" fill="#111" stroke="#111" stroke-width="0.25">3</text>
</svg></body></html>
